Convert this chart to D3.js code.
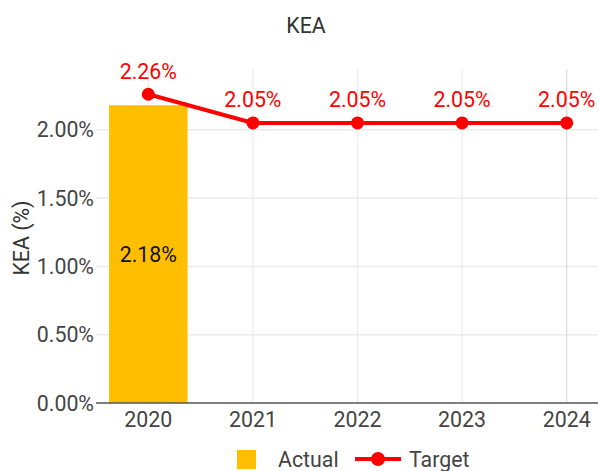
<!DOCTYPE html>
<html><head><meta charset="utf-8">
<script src="https://cdn.jsdelivr.net/npm/d3@7"></script>
<style>body{margin:0;background:#fff}svg{display:block;font-family:Roboto,sans-serif}</style>
</head><body><svg id="c" width="598" height="471"></svg>
<script>
const categories = ["2020","2021","2022","2023","2024"];
const actual = [2.18, null, null, null, null];
const target = [2.26, 2.05, 2.05, 2.05, 2.05];
const yTicks = [0, 0.5, 1.0, 1.5, 2.0];
const title = "KEA";
const yTitle = "KEA (%)";
const legendLabels = ["Actual", "Target"];

const FS = 21.33;
const svg = d3.select("#c");
const L = 96, R = 619, T = 69, B = 403;
const x = d3.scaleBand().domain(categories).range([L, R]);
const y = d3.scaleLinear().domain([0, 2.445]).range([B, T]);
const fmt = v => v.toFixed(2) + "%";

// horizontal gridlines
svg.append("g").selectAll("line").data(yTicks.filter(d => d > 0)).join("line")
  .attr("x1", L).attr("x2", 598).attr("y1", d => y(d)).attr("y2", d => y(d))
  .attr("stroke", "#ebebeb").attr("stroke-width", 1.5);
// vertical gridlines
svg.append("g").selectAll("line").data(categories).join("line")
  .attr("x1", d => x(d) + x.bandwidth() / 2).attr("x2", d => x(d) + x.bandwidth() / 2)
  .attr("y1", T).attr("y2", B)
  .attr("stroke", (d, i) => i === categories.length - 1 ? "#d9d9d9" : "#ececec").attr("stroke-width", 1.2);

// y tick labels
svg.append("g").selectAll("text").data(yTicks).join("text")
  .attr("x", L - 2).attr("y", d => y(d)).attr("dy", "0.36em")
  .attr("text-anchor", "end").attr("font-size", FS).attr("fill", "#444")
  .text(d => fmt(d));

// bars
const bw = 78.5;
const barData = categories.map((c, i) => ({c, v: actual[i]})).filter(d => d.v != null);
svg.append("g").selectAll("rect").data(barData).join("rect")
  .attr("x", d => x(d.c) + x.bandwidth() / 2 - bw / 2).attr("width", bw)
  .attr("y", d => y(d.v)).attr("height", d => B - y(d.v))
  .attr("fill", "#FFBF00");
svg.append("g").selectAll("text").data(barData).join("text")
  .attr("x", d => x(d.c) + x.bandwidth() / 2).attr("y", d => (y(d.v) + B) / 2).attr("dy", "0.36em")
  .attr("text-anchor", "middle").attr("font-size", FS).attr("fill", "#111")
  .text(d => fmt(d.v));

// x axis line
svg.append("line").attr("x1", L).attr("x2", 598).attr("y1", B).attr("y2", B)
  .attr("stroke", "#555").attr("stroke-width", 1.5);
// x tick labels
svg.append("g").selectAll("text").data(categories).join("text")
  .attr("x", d => x(d) + x.bandwidth() / 2).attr("y", 426.5)
  .attr("text-anchor", "middle").attr("font-size", FS).attr("fill", "#444")
  .text(d => d);

// target line
const pts = categories.map((c, i) => ({c, v: target[i]}));
svg.append("path").datum(pts)
  .attr("d", d3.line().x(d => x(d.c) + x.bandwidth() / 2).y(d => y(d.v)))
  .attr("fill", "none").attr("stroke", "#ff0000").attr("stroke-width", 4);
svg.append("g").selectAll("circle").data(pts).join("circle")
  .attr("cx", d => x(d.c) + x.bandwidth() / 2).attr("cy", d => y(d.v)).attr("r", 6.5)
  .attr("fill", "#ff0000");
svg.append("g").selectAll("text").data(pts).join("text")
  .attr("x", d => x(d.c) + x.bandwidth() / 2).attr("y", d => y(d.v) - 15.5)
  .attr("text-anchor", "middle").attr("font-size", FS).attr("fill", "#ff0000")
  .text(d => fmt(d.v));

// titles
svg.append("text").attr("x", 306).attr("y", 33).attr("text-anchor", "middle")
  .attr("font-size", FS).attr("fill", "#333").text(title);
svg.append("text").attr("transform", "translate(28.5,238) rotate(-90)").attr("text-anchor", "middle")
  .attr("font-size", FS).attr("fill", "#333").text(yTitle);

// legend
const lg = svg.append("g");
lg.append("rect").attr("x", 237).attr("y", 450).attr("width", 19).attr("height", 19).attr("fill", "#FFBF00");
lg.append("text").attr("x", 278).attr("y", 467).attr("font-size", FS).attr("fill", "#444").text(legendLabels[0]);
lg.append("line").attr("x1", 355).attr("x2", 401).attr("y1", 459).attr("y2", 459).attr("stroke", "#ff0000").attr("stroke-width", 4);
lg.append("circle").attr("cx", 378).attr("cy", 459).attr("r", 7).attr("fill", "#ff0000");
lg.append("text").attr("x", 409).attr("y", 467).attr("font-size", FS).attr("fill", "#444").text(legendLabels[1]);
</script></body></html>
